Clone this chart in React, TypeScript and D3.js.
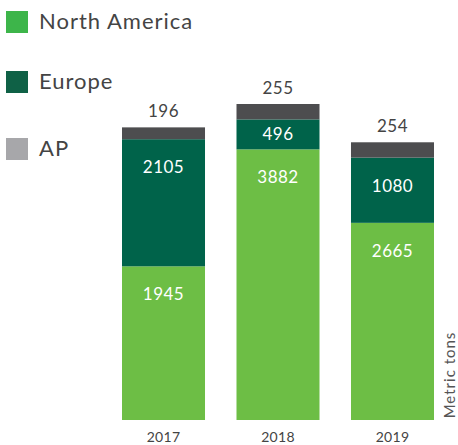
import * as d3 from "d3";
import React, { useRef, useEffect } from "react";

// data
const years = ["2017", "2018", "2019"];
const northAmerica = [1945, 3882, 2665];
const europe = [2105, 496, 1080];
const ap = [196, 255, 254];

const seriesKeys = ["northAmerica", "europe", "ap"];
const seriesNames = ["North America", "Europe", "AP"];
const barColors = ["#6dbe45", "#00634a", "#4d4d4f"];
const legendColors = ["#3db54a", "#0f6146", "#a7a7aa"];

const w = 458;
const h = 445;
const font = "Lato, 'Noto Sans', sans-serif";

export default function App() {
  const svgRef = useRef<SVGSVGElement>(null);

  useEffect(() => {
    const rows = years.map((y, i) => ({
      year: y,
      northAmerica: northAmerica[i],
      europe: europe[i],
      ap: ap[i],
    }));
    const stacked = d3.stack<any>().keys(seriesKeys)(rows);

    const xScale = d3.scaleBand().domain(years).range([122, 434]).paddingInner(0.275).paddingOuter(0);
    const yMax = d3.max(rows, (d) => d.northAmerica + d.europe + d.ap) as number;
    // the source chart's axis is not zero-based: the bars rise from a floor below 0
    const yFloor = -600;
    const yScale = d3.scaleLinear().domain([yFloor, yMax]).range([420, 104]);
    const base = (v: number) => (v === 0 ? yFloor : v);

    const svgEl = d3.select(svgRef.current);
    svgEl.selectAll("*").remove();
    const svg = svgEl.append("g");

    // bars
    const layers = svg
      .selectAll("g.layer")
      .data(stacked)
      .enter()
      .append("g")
      .attr("class", "layer")
      .attr("fill", (d, i) => barColors[i]);

    layers
      .selectAll("rect")
      .data((d) => d)
      .enter()
      .append("rect")
      .attr("x", (d: any) => xScale(d.data.year) as number)
      .attr("y", (d) => yScale(d[1]))
      .attr("width", xScale.bandwidth())
      .attr("height", (d) => yScale(base(d[0])) - yScale(d[1]));

    // labels inside the green segments
    stacked.slice(0, 2).forEach((layer) => {
      svg
        .append("g")
        .selectAll("text")
        .data(layer)
        .enter()
        .append("text")
        .attr("x", (d: any) => (xScale(d.data.year) as number) + xScale.bandwidth() / 2)
        .attr("y", (d) => {
          const top = yScale(d[1]);
          const mid = (yScale(base(d[0])) + top) / 2;
          return Math.min(top + 28, mid) + 6;
        })
        .attr("text-anchor", "middle")
        .attr("fill", "#ffffff")
        .style("font-family", font)
        .style("font-size", "17px")
        .style("letter-spacing", "0.5px")
        .text((d) => d[1] - d[0]);
    });

    // AP labels above the bars
    svg
      .append("g")
      .selectAll("text")
      .data(stacked[2])
      .enter()
      .append("text")
      .attr("x", (d: any) => (xScale(d.data.year) as number) + xScale.bandwidth() / 2)
      .attr("y", (d) => yScale(d[1]) - 10)
      .attr("text-anchor", "middle")
      .attr("fill", "#444444")
      .style("font-family", font)
      .style("font-size", "17px")
      .style("letter-spacing", "0.5px")
      .text((d) => d[1] - d[0]);

    // year labels
    svg
      .append("g")
      .selectAll("text")
      .data(years)
      .enter()
      .append("text")
      .attr("x", (d) => (xScale(d) as number) + xScale.bandwidth() / 2)
      .attr("y", 442)
      .attr("text-anchor", "middle")
      .attr("fill", "#444444")
      .style("font-family", font)
      .style("font-size", "14px")
      .style("letter-spacing", "0.3px")
      .text((d) => d);

    // unit label
    svg
      .append("text")
      .attr("transform", "translate(455,375) rotate(-90)")
      .attr("text-anchor", "middle")
      .attr("fill", "#555555")
      .style("font-family", font)
      .style("font-size", "15px")
      .style("letter-spacing", "1px")
      .text("Metric tons");

    // legend
    const legendY = [11, 71, 138];
    const legend = svg
      .append("g")
      .selectAll("g")
      .data(seriesNames)
      .enter()
      .append("g")
      .attr("transform", (d, i) => "translate(6," + legendY[i] + ")");
    legend
      .append("rect")
      .attr("width", 22)
      .attr("height", 22)
      .attr("fill", (d, i) => legendColors[i]);
    legend
      .append("text")
      .attr("x", 33)
      .attr("y", 18)
      .attr("fill", "#444444")
      .style("font-family", font)
      .style("font-size", "22px")
      .style("letter-spacing", "1px")
      .text((d) => d);
  }, []);

  return (
    <div>
      <style>{`body{margin:0}`}</style>
      <svg ref={svgRef} width={w} height={h} viewBox={`0 0 ${w} ${h}`} style={{ display: "block", background: "#ffffff" }} />
    </div>
  );
}
